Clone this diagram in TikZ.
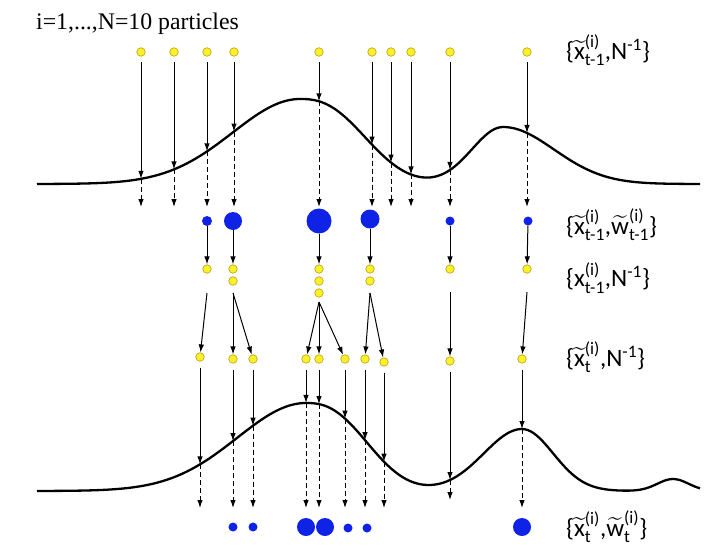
\documentclass[tikz,border=0pt]{standalone}
\usepackage{amsmath}
\usepackage{fontspec}
\setmainfont{Liberation Serif}
\newfontfamily\lblfont{Carlito}
\usetikzlibrary{arrows.meta}
\definecolor{partyellow}{RGB}{252,240,40}
\definecolor{partedge}{RGB}{190,170,30}
\definecolor{wblue}{RGB}{15,35,230}
\tikzstyle{particle}=[circle,fill=partyellow,draw=partedge,line width=0.7pt,minimum size=8.5pt,inner sep=0pt]
\tikzstyle{weight}=[circle,fill=wblue,minimum size=9pt,inner sep=0pt]
\tikzstyle{prop}=[-{Latex[length=8pt,width=5.5pt]},line width=1pt]
\tikzstyle{proj}=[prop,dash pattern=on 5pt off 3pt]
\tikzstyle{density}=[line width=2.3pt,line join=round]
\tikzstyle{setlabel}=[anchor=west,inner sep=0pt,font=\lblfont\fontsize{25}{30}\selectfont]
\newcommand{\xtil}{\widetilde{\text{x}}}
\newcommand{\wtil}{\widetilde{\text{w}}}

\begin{document}
\begin{tikzpicture}[x=1pt,y=-1pt,
    declare function={
        g(\d,\s,\p)=exp(-min(pow(abs(\d)/\s+0.0001,\p),40));
        ftop(\x)=184-85*((\x<300) ? g(\x-300,95,2) : g(\x-300,80,2.5))
                    -57*((\x<503) ? g(\x-503,44,2) : g(\x-503,72,2));
        fbot(\x)=491-88*((\x<306) ? g(\x-306,97,2) : g(\x-306,75,2.5))
                    -62*((\x<522) ? g(\x-522,54,2) : g(\x-522,44,2))
                    -12*g(\x-673,22,2);
    }]
    \useasboundingbox (0,0) rectangle (720,554);
    \node[anchor=base west,inner sep=0pt,font=\fontsize{23.8}{28}\selectfont] (title) at (36,29) {i=1,...,N=10 particles};

    % particles at t-1 and the likelihood
    \draw[density] plot[domain=37:700,samples=220,smooth] (\x,{ftop(\x)});
    \foreach \n/\x in {1/141,2/174,3/207,4/234,5/319,6/372,7/391,8/411,9/450,10/527} {
        \node[particle] (a\n) at (\x,52) {};
        \coordinate (ca\n) at (\x,{ftop(\x)});
        \coordinate (da\n) at (\x,207);
        \draw[prop,shorten <=5pt] (a\n) -- (ca\n);
        \draw[proj] (ca\n) -- (da\n);
    }

    % weighted particles
    \node[weight,minimum size=10pt] (b3) at (207,221) {};
    \node[weight,minimum size=18pt] (b4) at (233,221) {};
    \node[weight,minimum size=25pt] (b5) at (319,221) {};
    \node[weight,minimum size=19pt] (b6) at (370,219) {};
    \node[weight] (b9) at (450,221) {};
    \node[weight] (b10) at (528,221) {};

    % resampled
    \node[particle] (r3) at (207,269) {};
    \node[particle] (r4) at (233,269) {};
    \node[particle] (r4b) at (233,281) {};
    \node[particle] (r5) at (319,269) {};
    \node[particle] (r5b) at (319,281) {};
    \node[particle] (r5c) at (319,293) {};
    \node[particle] (r6) at (370,269) {};
    \node[particle] (r6b) at (370,281) {};
    \node[particle] (r9) at (450,269) {};
    \node[particle] (r10) at (527,269) {};
    \foreach \n in {3,4,5,6,9,10}
        \draw[prop] (b\n) -- (r\n);

    \coordinate (s3) at (207,293);
    \coordinate (s4) at (233,293);
    \coordinate (s5) at (319,302);
    \coordinate (s6) at (370,293);
    \coordinate (s9) at (450,292);
    \coordinate (s10) at (527,292);

    % particles at t and the likelihood
    \draw[density] plot[domain=37:700,samples=220,smooth] (\x,{fbot(\x)});
    \foreach \n/\x/\ye/\yd in {1/200/357/508,2/233/359/508,3/253/359/508,4/306/359/508,5/319/359/508,6/345/359/508,7/365/359/508,8/384/362/508,9/450/361/500,10/522/359/508} {
        \node[particle] (e\n) at (\x,\ye) {};
        \coordinate (cb\n) at (\x,{fbot(\x)});
        \coordinate (db\n) at (\x,\yd);
        \draw[prop,shorten <=6pt] (e\n) -- (cb\n);
        \draw[proj] (cb\n) -- (db\n);
    }
    \foreach \from/\to in {s3/e1,s4/e2,s4/e3,s5/e4,s5/e5,s5/e6,s6/e7,s6/e8,s9/e9,s10/e10}
        \draw[prop] (\from) -- (\to);

    % weights at t
    \node[weight] (v2) at (233,527) {};
    \node[weight] (v3) at (253,527) {};
    \node[weight,minimum size=18pt] (v4) at (306,527) {};
    \node[weight,minimum size=18pt] (v5) at (325,527) {};
    \node[weight] (v6) at (348,528) {};
    \node[weight] (v7) at (367,528) {};
    \node[weight,minimum size=18pt] (v10) at (522,527) {};

    % set labels
    \node[setlabel] (l1) at (566,50) {$\text{\{}\xtil^{\text{(i)}}_{\text{t-1}}\text{,N}^{\text{-1}}\text{\}}$};
    \node[setlabel] (l2) at (566,225) {$\text{\{}\xtil^{\text{(i)}}_{\text{t-1}}\text{,}\wtil^{\text{(i)}}_{\text{t-1}}\text{\}}$};
    \node[setlabel] (l3) at (566,278) {$\text{\{x}^{\text{(i)}}_{\text{t-1}}\text{,N}^{\text{-1}}\text{\}}$};
    \node[setlabel] (l4) at (566,357) {$\text{\{}\xtil^{\text{(i)}}_{\text{t}}\text{,N}^{\text{-1}}\text{\}}$};
    \node[setlabel] (l5) at (566,527) {$\text{\{}\xtil^{\text{(i)}}_{\text{t}}\text{,}\wtil^{\text{(i)}}_{\text{t}}\text{\}}$};
\end{tikzpicture}
\end{document}
